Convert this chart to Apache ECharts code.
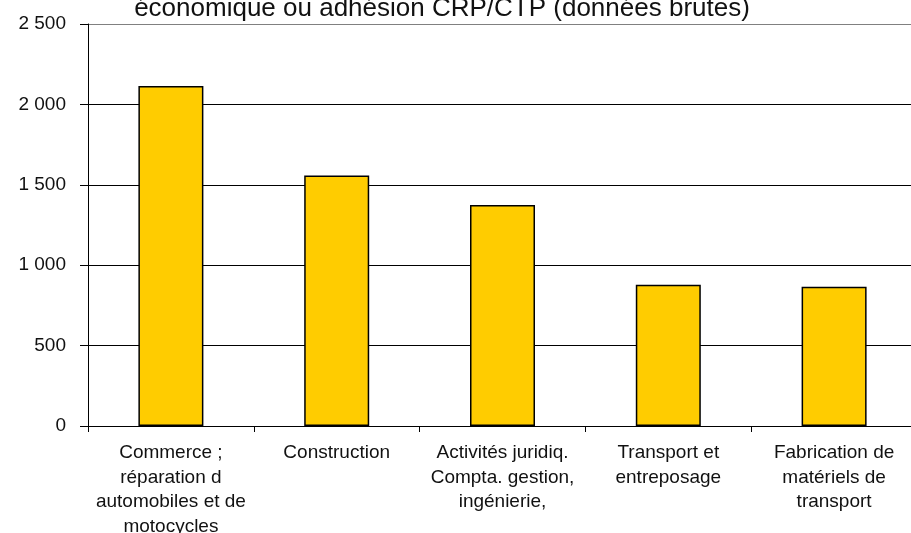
<!DOCTYPE html>
<html>
<head>
<meta charset="utf-8">
<script src="https://cdn.jsdelivr.net/npm/echarts@6/dist/echarts.min.js"></script>
<style>
	html, body { margin: 0; padding: 0; background: #fff; }
	#chart { width: 911px; height: 533px; }
</style>
</head>
<body>
<div id="chart"></div>
<script>
// secteurs (libellés avec retours à la ligne comme sur le graphique)
var secteurs = [
	"Commerce ;\nréparation d\nautomobiles et de\nmotocycles",
	"Construction",
	"Activités juridiq.\nCompta. gestion,\ningénierie,",
	"Transport et\nentreposage",
	"Fabrication de\nmatériels de\ntransport"
];
// effectifs (données brutes)
var effectifs = [2115, 1558, 1374, 879, 866];
// graduations de l'axe vertical
var yMin = 0;
var yMax = 2500;
var yPas = 500;

var titre = "économique ou adhésion CRP/CTP (données brutes)";

// format "2 500"
function formatNombre(v){
	return String(v).replace(/\B(?=(\d{3})+(?!\d))/g, ' ');
}

var chart = echarts.init(document.getElementById('chart'));

var option = {
	animation : false,
	backgroundColor : '#fff',
	textStyle : {
		fontFamily : 'Liberation Sans, Arial, sans-serif'
	},
	title : {
		text : titre,
		left : 437,
		top : -9,
		textAlign : 'center',
		textStyle : {
			fontSize : 26,
			fontWeight : 'normal',
			color : '#111'
		}
	},
	grid : {
		left : 88,
		right : -6,
		top : 24,
		bottom : 107,
		containLabel : false,
		outerBoundsMode : 'none'
	},
	xAxis : [ {
		type : 'category',
		data : secteurs,
		boundaryGap : true,
		axisLine : { show : true, lineStyle : { color : '#000', width : 1 } },
		axisTick : { show : true, inside : false, length : 6, lineStyle : { color : '#000' } },
		axisLabel : {
			interval : 0,
			margin : 15,
			fontSize : 19,
			lineHeight : 24.5,
			color : '#111',
			align : 'center'
		},
		splitLine : { show : false }
	} ],
	yAxis : [ {
		type : 'value',
		min : yMin,
		max : yMax,
		interval : yPas,
		axisLine : { show : true, lineStyle : { color : '#000', width : 1 } },
		axisTick : { show : true, inside : false, length : 8, lineStyle : { color : '#000' } },
		axisLabel : {
			margin : 22,
			fontSize : 19,
			color : '#111',
			formatter : formatNombre
		},
		splitLine : {
			show : true,
			lineStyle : {
				color : ['#000', '#000', '#000', '#000', '#000', '#808080'],
				width : 1
			}
		}
	} ],
	series : [ {
		name : 'Effectifs',
		type : 'bar',
		barWidth : 65,
		data : effectifs,
		itemStyle : {
			color : '#FFCC00',
			borderColor : '#000',
			borderWidth : 1.5
		}
	} ]
};
chart.setOption(option);
</script>
</body>
</html>
